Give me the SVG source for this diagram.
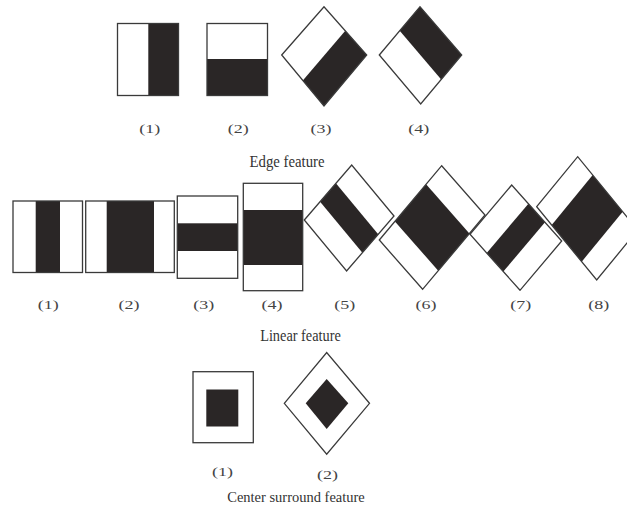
<svg xmlns="http://www.w3.org/2000/svg" width="627" height="507" viewBox="0 0 627 507">
<style>
.o{fill:none;stroke:#3a3a3a;stroke-width:1.3}
.k{fill:#2a2626}
.lb{font-family:"Liberation Serif","Noto Sans CJK SC",serif;font-size:11.5px;fill:#444;text-anchor:middle}
.t{font-family:"Liberation Serif",serif;fill:#333;text-anchor:middle}
</style>
<rect width="627" height="507" fill="#fff"/>
<g id="edge-row">
<g id="edge-1">
<rect class="k" x="148.3" y="23.5" width="30.2" height="72"/>
<rect class="o" x="117.5" y="23.5" width="61" height="72"/>
<text class="lb" x="149.7" y="132.5" textLength="21" lengthAdjust="spacingAndGlyphs">(1)</text>
</g>
<g id="edge-2">
<rect class="k" x="207" y="59" width="60.5" height="36.5"/>
<rect class="o" x="207" y="23.5" width="60.5" height="72"/>
<text class="lb" x="238.3" y="132.5" textLength="21" lengthAdjust="spacingAndGlyphs">(2)</text>
</g>
<g id="edge-3">
<polygon class="k" points="302.8,80.5 345.3,30.8 366.7,55 324,106"/>
<polygon class="o" points="281.7,55 324,6.7 366.7,55 324,106"/>
<text class="lb" x="321" y="132.5" textLength="21" lengthAdjust="spacingAndGlyphs">(3)</text>
</g>
<g id="edge-4">
<polygon class="k" points="420,6.7 461.7,55 441.2,79.5 399.7,30.8"/>
<polygon class="o" points="379.3,55 420,6.7 461.7,55 420.7,104"/>
<text class="lb" x="418.8" y="132.5" textLength="21" lengthAdjust="spacingAndGlyphs">(4)</text>
</g>
<text class="t" x="287" y="167" font-size="17" textLength="75" lengthAdjust="spacingAndGlyphs">Edge feature</text>
</g>
<g id="linear-row">
<g id="lin-1">
<rect class="k" x="35.7" y="201" width="24.3" height="71.5"/>
<rect class="o" x="13" y="201" width="69.5" height="71.5"/>
<text class="lb" x="48.3" y="309" textLength="21" lengthAdjust="spacingAndGlyphs">(1)</text>
</g>
<g id="lin-2">
<rect class="k" x="106.7" y="201" width="47.3" height="71.5"/>
<rect class="o" x="85.7" y="201" width="88.6" height="71.5"/>
<text class="lb" x="129" y="309" textLength="21" lengthAdjust="spacingAndGlyphs">(2)</text>
</g>
<g id="lin-3">
<rect class="k" x="177.3" y="223.3" width="60.4" height="27.7"/>
<rect class="o" x="177.3" y="196" width="60.4" height="82.3"/>
<text class="lb" x="203.8" y="309" textLength="21" lengthAdjust="spacingAndGlyphs">(3)</text>
</g>
<g id="lin-4">
<rect class="k" x="243.3" y="210" width="59.4" height="55"/>
<rect class="o" x="243.3" y="183.3" width="59.4" height="107.4"/>
<text class="lb" x="272" y="309" textLength="21" lengthAdjust="spacingAndGlyphs">(4)</text>
</g>
<g id="lin-5">
<polygon class="k" points="320.1,201.7 335.9,183.3 378.2,234.3 362.4,252.7"/>
<polygon class="o" points="304.3,220 351.7,165 394,216 346.6,271"/>
<text class="lb" x="344.7" y="309" textLength="21" lengthAdjust="spacingAndGlyphs">(5)</text>
</g>
<g id="lin-6">
<polygon class="k" points="394.9,221.4 426.1,184.3 469.4,233.6 438.2,270.7"/>
<polygon class="o" points="379.3,240 441.7,165.7 485,215 422.6,289.3"/>
<text class="lb" x="426" y="309" textLength="21" lengthAdjust="spacingAndGlyphs">(6)</text>
</g>
<g id="lin-7">
<polygon class="k" points="528.4,203.7 545,222.3 503.3,271.6 486.7,253"/>
<polygon class="o" points="470,234.3 511.7,185 561.7,241 520,290.3"/>
<text class="lb" x="520.8" y="309" textLength="21" lengthAdjust="spacingAndGlyphs">(7)</text>
</g>
<g id="lin-8">
<polygon class="k" points="551.7,225 592.7,175 622.7,211.7 581.7,261.7"/>
<polygon class="o" points="536.7,206.7 577.7,156.7 637.7,230 596.7,280"/>
<text class="lb" x="598.7" y="309" textLength="21" lengthAdjust="spacingAndGlyphs">(8)</text>
</g>
<text class="t" x="300.5" y="341" font-size="16" textLength="80.7" lengthAdjust="spacingAndGlyphs">Linear feature</text>
</g>
<g id="center-row">
<g id="cs-1">
<rect class="k" x="206.3" y="389.5" width="32" height="37"/>
<rect class="o" x="193" y="371.7" width="60.3" height="71"/>
<text class="lb" x="222.5" y="476" textLength="21" lengthAdjust="spacingAndGlyphs">(1)</text>
</g>
<g id="cs-2">
<polygon class="k" points="305.7,403.3 326.7,379 348.3,403.3 326.7,429"/>
<polygon class="o" points="284.3,403.3 326.7,352.5 369.5,403.3 326.7,454.2"/>
<text class="lb" x="327.5" y="479" textLength="21" lengthAdjust="spacingAndGlyphs">(2)</text>
</g>
<text class="t" x="296" y="501.5" font-size="15" textLength="137.5" lengthAdjust="spacingAndGlyphs">Center surround feature</text>
</g>
<g id="connectors"/>
</svg>
